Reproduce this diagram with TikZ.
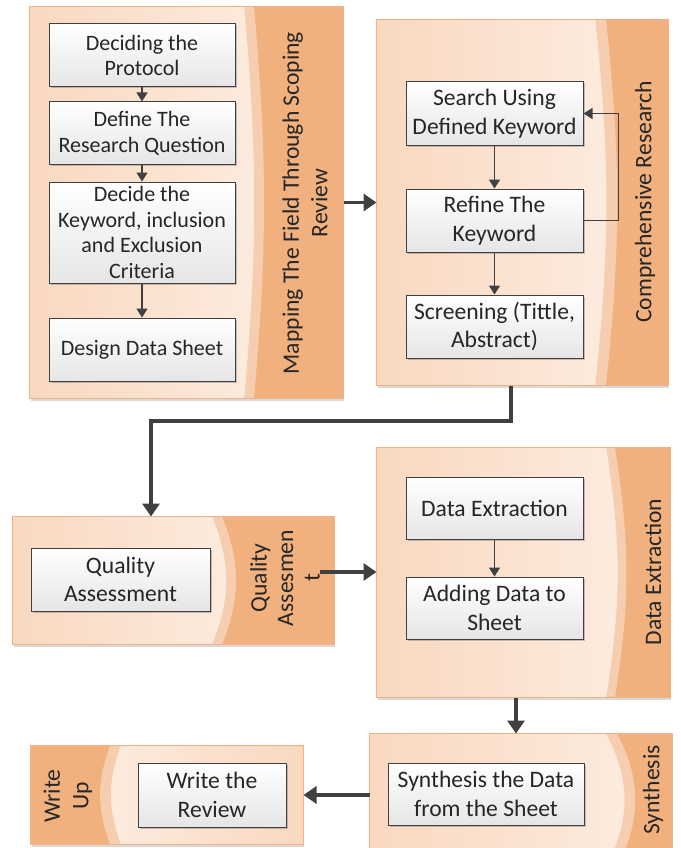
\documentclass[tikz,border=0pt]{standalone}
\usepackage{fontspec}
\setmainfont{Carlito}
\usetikzlibrary{arrows.meta, shadows}

\definecolor{stripdark}{HTML}{F0B17F}
\definecolor{stripband}{HTML}{F6CDAE}
\definecolor{panelleft}{HTML}{F9D8BF}
\definecolor{panelright}{HTML}{FCEBDF}
\definecolor{panelline}{HTML}{F4B183}
\definecolor{boxline}{HTML}{404040}
\definecolor{arrowcol}{HTML}{404040}
\definecolor{textcol}{HTML}{262626}

\begin{document}
\begin{tikzpicture}[x=1pt, y=-1pt,
  every node/.style={font=\fontsize{23.6}{28.5}\selectfont, text=textcol},
  smalltext/.style={font=\fontsize{22}{25.8}\selectfont},
  panel/.style={draw=panelline, line width=1pt, fill=stripdark,
    drop shadow={shadow xshift=1pt, shadow yshift=-2.5pt, fill=black, opacity=.15}},
  box/.style={draw=boxline, line width=1pt, top color=white, bottom color=black!10,
    align=center, minimum height=63pt, inner sep=2pt,
    drop shadow={shadow xshift=1.5pt, shadow yshift=-1.5pt, fill=black, opacity=.2}},
  lab/.style={rotate=90, align=center},
  arr/.style={draw=arrowcol, line width=1.5pt, -{Triangle[length=9pt, width=11pt]}},
  bigarr/.style={draw=arrowcol, line width=3.5pt, -{Triangle[length=13pt, width=17pt]}}]
\useasboundingbox (0,0) rectangle (680,848);
\clip (0,0) rectangle (680,848);

\node (map) [panel, minimum width=313pt, minimum height=391pt] at (186.5,202.5) {};
\node (comp) [panel, minimum width=291pt, minimum height=365pt] at (522.5,202.5) {};
\node (qual) [panel, minimum width=321pt, minimum height=127pt] at (173.5,580.5) {};
\node (dataex) [panel, minimum width=293pt, minimum height=249pt] at (523.5,572.5) {};
\node (synth) [panel, minimum width=302pt, minimum height=132pt] at (521,800) {};
\node (write) [panel, minimum width=272pt, minimum height=98pt] at (167,795) {};

\foreach \p/\xl/\xb/\a in {map/245/254/5, comp/596/606/6, qual/213/222/22, dataex/607/615/9, synth/607/617/28}{
  \fill[stripband] (\p.north west) -- (\p.north -| \xb,0) to[bend left=\a] (\p.south -| \xb,0) -- (\p.south west) -- cycle;
  \fill[left color=panelleft, right color=panelright] (\p.north west) -- (\p.north -| \xl,0) to[bend left=\a] (\p.south -| \xl,0) -- (\p.south west) -- cycle;
  \draw[stripband, line width=1.5pt] (\p.north -| \xl,0) to[bend left=\a] (\p.south -| \xl,0);
  \draw[panelline, line width=1pt] (\p.north west) rectangle (\p.south east);
}
\fill[stripband] (write.north east) -- (write.north -| 110,0) to[bend right=20] (write.south -| 110,0) -- (write.south east) -- cycle;
\fill[left color=panelright, right color=panelleft] (write.north east) -- (write.north -| 120,0) to[bend right=20] (write.south -| 120,0) -- (write.south east) -- cycle;
\draw[stripband, line width=1.5pt] (write.north -| 120,0) to[bend right=20] (write.south -| 120,0);
\draw[panelline, line width=1pt] (write.north west) rectangle (write.south east);

\node (proto) [box, smalltext, minimum width=186pt] at (142,55.5) {Deciding the\\Protocol};
\node (quest) [box, smalltext, minimum width=186pt, minimum height=62pt] at (142,133) {Define The\\Research Question};
\node (kw) [box, smalltext, minimum width=186pt, minimum height=101pt] at (142,232.5) {Decide the\\Keyword, inclusion\\and Exclusion\\Criteria};
\node (sheet) [box, smalltext, minimum width=186pt] at (142,349.5) {Design Data Sheet};
\node (search) [box, minimum width=177pt] at (494.5,113.5) {Search Using\\Defined Keyword};
\node (refine) [box, minimum width=177pt] at (494.5,220.5) {Refine The\\Keyword};
\node (screen) [box, minimum width=177pt] at (494.5,326.5) {Screening (Tittle,\\Abstract)};
\node (qa) [box, minimum width=179pt] at (120.5,579.5) {Quality\\Assessment};
\node (extract) [box, minimum width=177pt, minimum height=62pt] at (494.5,508) {Data Extraction};
\node (adding) [box, minimum width=177pt, minimum height=62pt] at (494.5,608) {Adding Data to\\Sheet};
\node (synthbox) [box, minimum width=196pt, minimum height=62pt] at (486,794) {Synthesis the Data\\from the Sheet};
\node (review) [box, minimum width=148pt, minimum height=64pt] at (212,795) {Write the\\Review};

\node (maplab) [lab] at (305,203) {Mapping The Field Through Scoping\\Review};
\node (complab) [lab] at (645,202) {Comprehensive Research};
\node (quallab) [lab, font=\fontsize{23.6}{26.5}\selectfont] at (285,578) {Quality\\Assesmen\\t};
\node (datalab) [lab] at (653,572) {Data Extraction};
\node (synthlab) [lab] at (653,790) {Synthesis};
\node (writelab) [lab] at (68,796) {Write\\Up};

\draw[arr] (proto) -- (quest);
\draw[arr] (quest) -- (kw);
\draw[arr] (kw) -- (sheet);
\draw[arr] (search) -- (refine);
\draw[arr] (refine) -- (screen);
\draw[arr] (refine.east) -- ++(35,0) |- (search.east);
\draw[arr] (extract) -- (adding);

\coordinate (down1) at (511,421);
\coordinate (down2) at (151,421);
\coordinate (qstart) at (320,572);
\draw[bigarr] (map) -- (comp);
\draw[bigarr] (comp.south -| down1) -- (down1) -- (down2) -- (qual.north -| down2);
\draw[bigarr] (qstart) -- (dataex.west |- qstart);
\draw[bigarr] (dataex.south -| 516,0) -- (synth.north -| 516,0);
\draw[bigarr] (synth.west |- review) -- (write.east |- review);
\end{tikzpicture}
\end{document}
